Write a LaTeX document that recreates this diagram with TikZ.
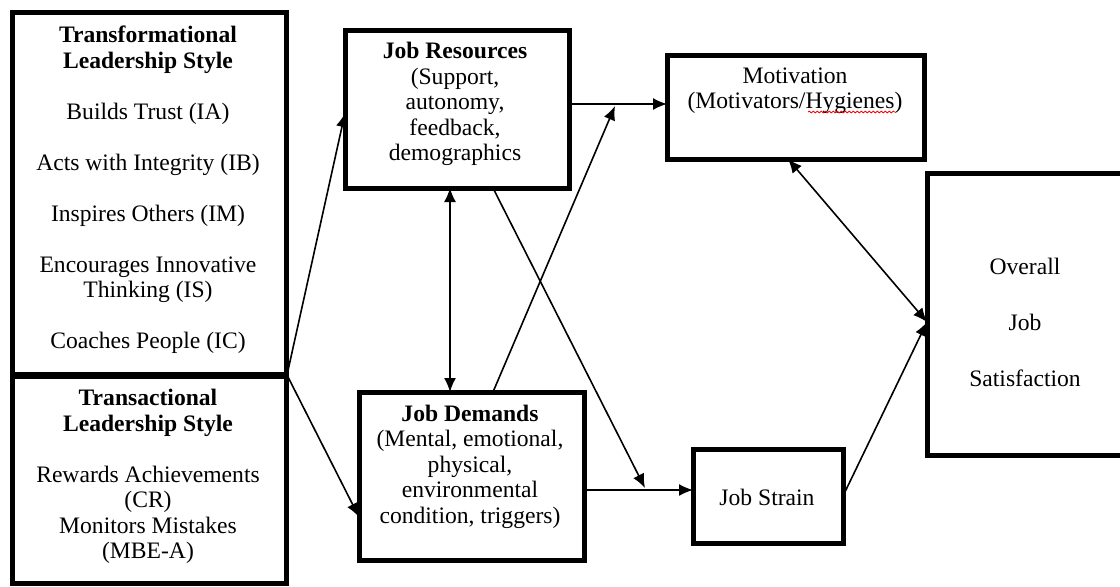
\documentclass[tikz,border=0pt]{standalone}
\usepackage{fontspec}
\setmainfont{Liberation Serif}
\usetikzlibrary{arrows.meta,decorations.pathmorphing,calc}
\begin{document}
\begin{tikzpicture}[x=0.5pt,y=-0.5pt,
  box/.style={draw,line width=2.5pt,inner sep=0pt,outer sep=0pt},
  txt/.style={align=center,font=\fontsize{11.8}{12.75}\selectfont,inner sep=0pt},
  arr/.style={line width=0.8pt,-{Latex[length=7pt,width=6pt]}},
  darr/.style={line width=0.8pt,{Latex[length=7pt,width=6pt]}-{Latex[length=7pt,width=6pt]}},
  spell/.style={draw=red,line width=0.4pt,decorate,decoration={snake,amplitude=0.45pt,segment length=2pt}}]
\useasboundingbox (0,0) rectangle (1120,586);

% boxes
\node[box,minimum width=137pt,minimum height=181pt] (b1) at (149,193) {};
\node[box,minimum width=137pt,minimum height=103.5pt] (b2) at (149,479.5) {};
\node[box,minimum width=112pt,minimum height=79pt] (jr) at (457,109) {};
\node[box,minimum width=128.5pt,minimum height=52pt] (mot) at (795.5,107) {};
\node[box,minimum width=112.5pt,minimum height=84pt] (jd) at (471.5,476) {};
\node[box,minimum width=75pt,minimum height=47pt] (js) at (768,496) {};
\node[box,minimum width=121.5pt,minimum height=141pt] (ov) at (1048.5,314) {};

% texts
\node[txt] (t1) at (148,190) {\textbf{Transformational}\\\textbf{Leadership Style}\\[12.75pt]
  Builds Trust (IA)\\[12.75pt]Acts with Integrity (IB)\\[12.75pt]Inspires Others (IM)\\[12.75pt]
  Encourages Innovative\\Thinking (IS)\\[12.75pt]Coaches People (IC)};
\node[txt] (t2) at (148,476.5) {\textbf{Transactional}\\\textbf{Leadership Style}\\[12.75pt]
  Rewards Achievements\\(CR)\\Monitors Mistakes\\(MBE-A)};
\node[txt] (t3) at (455,104) {\textbf{Job Resources}\\(Support,\\autonomy,\\feedback,\\demographics};
\node[txt] (t4) at (470,466.5) {\textbf{Job Demands}\\(Mental, emotional,\\physical,\\environmental\\condition, triggers)};
\node[txt] (t5) at (795,90.5) {Motivation\\(Motivators/Hygienes)};
\node[txt] (t6) at (767,497) {Job Strain};
\node[txt,font=\fontsize{11.8}{28}\selectfont] (t7) at (1025,322) {Overall\\Job\\Satisfaction};
\path[spell] (808,112) -- (895,112);

% connectors
\coordinate (j) at (287,375);
\draw[arr] (j) -- ([yshift=-2pt]jr.west);
\draw[arr] (j) -- ([yshift=-20.5pt]jd.west);
\coordinate (h1) at ([yshift=2.5pt]jr.east);
\draw[arr] (h1) -- (h1 -| mot.west);
\coordinate (e1) at (615,106);
\draw[arr] ([xshift=10.75pt]jd.north) -- (e1);
\coordinate (v) at (450,300);
\draw[darr] (jr.south -| v) -- (jd.north -| v);
\coordinate (e2) at (645,488);
\draw[arr] ([xshift=18pt]jr.south) -- (e2);
\coordinate (h2) at ([yshift=-7pt]jd.east);
\draw[arr] (h2) -- (h2 -| js.west);
\coordinate (ov1) at ([yshift=-4pt]ov.west);
\draw[darr] ([xshift=-3.75pt]mot.south) -- (ov1);
\draw[arr] (js.east) -- (ov1);
\end{tikzpicture}
\end{document}
